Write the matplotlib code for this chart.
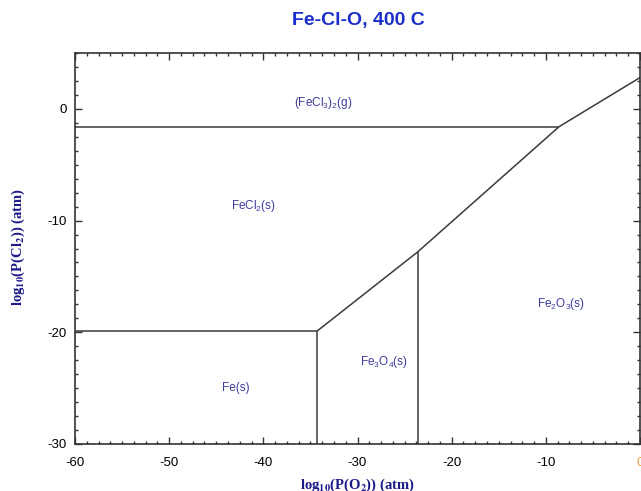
import matplotlib
matplotlib.use("Agg")
import matplotlib.pyplot as plt
from matplotlib.ticker import MultipleLocator

plt.rcParams["axes.unicode_minus"] = False
plt.rcParams["mathtext.fontset"] = "custom"
plt.rcParams["mathtext.rm"] = "Liberation Sans"
plt.rcParams["mathtext.it"] = "Liberation Sans"
plt.rcParams["mathtext.bf"] = "Liberation Sans:bold"

# Boundary lines (log10 pO2, log10 pCl2)
gas_boundary_x = [-60, -8.6]
gas_boundary_y = [-1.6, -1.6]
fe_fecl2_x = [-60, -34.3]
fe_fecl2_y = [-19.9, -19.9]
fe_fe3o4_x = [-34.3, -34.3]
fe_fe3o4_y = [-30, -19.9]
fe3o4_fe2o3_x = [-23.6, -23.6]
fe3o4_fe2o3_y = [-30, -12.8]
chloride_oxide_x = [-34.3, -23.6, -8.6, 0]
chloride_oxide_y = [-19.9, -12.8, -1.6, 2.8]

region_labels = ["(FeCl$_3$)$_2$(g)", "FeCl$_2$(s)", "Fe$_2$O$_3$(s)", "Fe$_3$O$_4$(s)", "Fe(s)"]
region_x = [-33.6, -41.0, -8.4, -27.2, -42.9]
region_y = [0.5, -8.7, -17.5, -22.7, -25.0]

xticks = [-60, -50, -40, -30, -20, -10, 0]
yticks = [-30, -20, -10, 0]

fig = plt.figure(figsize=(6.41, 4.91), dpi=100)
ax = fig.add_axes([75/641, 1-444/491, (640-75)/641, (444-53)/491])

lc = "#3a3a3a"
lw = 1.1
for xs, ys in [(gas_boundary_x, gas_boundary_y), (fe_fecl2_x, fe_fecl2_y),
               (fe_fe3o4_x, fe_fe3o4_y), (fe3o4_fe2o3_x, fe3o4_fe2o3_y),
               (chloride_oxide_x, chloride_oxide_y)]:
    ax.plot(xs, ys, color=lc, lw=lw, solid_capstyle="butt")

lab_col = "#3b3b9f"
for t, x, y in zip(region_labels, region_x, region_y):
    ax.text(x, y, t, ha="center", va="center", fontsize=8.5, color=lab_col,
            family="Liberation Sans", math_fontfamily="custom")

ax.set_xlim(-60, 0)
ax.set_ylim(-30, 5)
ax.set_xticks(xticks)
ax.set_yticks(yticks)
ax.xaxis.set_minor_locator(MultipleLocator(1.25))
ax.yaxis.set_minor_locator(MultipleLocator(1.25))
ax.tick_params(which="both", direction="in", top=True, right=True,
               labelsize=9.5, colors="#333333", labelcolor="black", width=1)
ax.tick_params(which="major", length=5, pad=6)
ax.tick_params(axis="x", which="major", pad=9)
ax.tick_params(which="minor", length=2.5)
for lab in ax.get_xticklabels() + ax.get_yticklabels():
    lab.set_family("Liberation Sans")
ax.get_xticklabels()[-1].set_color("#e8a040")
for s in ax.spines.values():
    s.set_color("#333333")
    s.set_linewidth(1.2)

fig.text(358/641, 1-20/491, "Fe-Cl-O, 400 C", ha="center", va="center",
         fontsize=14, fontweight="bold", color="#1a2ecc", family="Liberation Sans")
fig.text(357/641, 1-485/491, r"log$_\mathbf{10}$(P(O$_\mathbf{2}$)) (atm)", ha="center",
         va="center", fontsize=10.5, fontweight="bold", color="#1a1a8a",
         family="Liberation Serif", math_fontfamily="stix")
fig.text(18/641, 1-247/491, r"log$_\mathbf{10}$(P(Cl$_\mathbf{2}$)) (atm)", ha="center",
         va="center", rotation=90, fontsize=10.5, fontweight="bold", color="#1a1a8a",
         family="Liberation Serif", math_fontfamily="stix")

fig.savefig("out.png", dpi=100)
